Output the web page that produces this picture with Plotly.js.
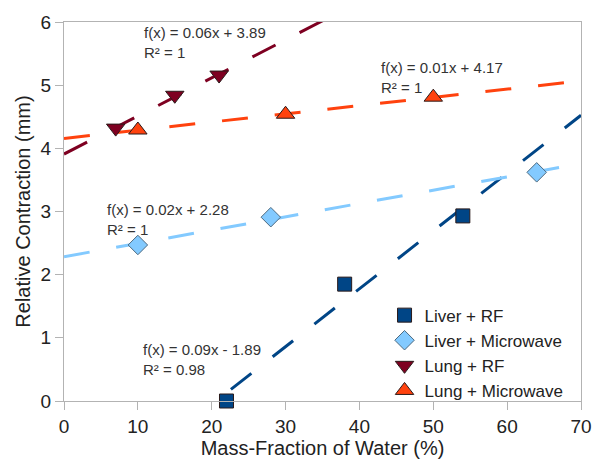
<!DOCTYPE html>
<html>
<head>
<meta charset="utf-8">
<script src="https://cdn.plot.ly/plotly-3.0.1.min.js"></script>
<style>
  html, body { margin: 0; padding: 0; background: #fff; }
  #chart { width: 600px; height: 475px; }
</style>
</head>
<body>
<div id="chart"></div>
<script>
// values
const seriesNames = ["Liver + RF", "Liver + Microwave", "Lung + RF", "Lung + Microwave"];
const liverRfX = [22, 38, 54];
const liverRfY = [0, 1.85, 2.93];
const liverMwX = [10, 28, 64];
const liverMwY = [2.47, 2.91, 3.62];
const lungRfX = [7, 15, 21];
const lungRfY = [4.32, 4.84, 5.16];
const lungMwX = [10, 30, 50];
const lungMwY = [4.29, 4.54, 4.81];
const fitLabels = [
  "f(x) = 0.09x - 1.89<br>R² = 0.98",
  "f(x) = 0.02x + 2.28<br>R² = 1",
  "f(x) = 0.06x + 3.89<br>R² = 1",
  "f(x) = 0.01x + 4.17<br>R² = 1",
];

const colors = ["#004586", "#83caff", "#7e0021", "#ff420e"];
const symbols = ["square", "diamond", "triangle-down", "triangle-up"];
const sizes = [14, 15, 16, 16];
const labelPos = [[10.4, 0.98], [5.6, 3.2], [10.5, 6.0], [42.7, 5.44]];
const xRange = [0, 70];

// least squares fit, same as the spreadsheet trend line
function linFit(xs, ys) {
  const n = xs.length;
  const mx = xs.reduce((a, b) => a + b, 0) / n;
  const my = ys.reduce((a, b) => a + b, 0) / n;
  let sxy = 0, sxx = 0;
  for (let i = 0; i < n; i++) {
    sxy += (xs[i] - mx) * (ys[i] - my);
    sxx += (xs[i] - mx) * (xs[i] - mx);
  }
  const m = sxy / sxx;
  return { m: m, b: my - m * mx };
}

const allX = [liverRfX, liverMwX, lungRfX, lungMwX];
const allY = [liverRfY, liverMwY, lungRfY, lungMwY];

const trends = allX.map((xs, i) => {
  const f = linFit(xs, allY[i]);
  return {
    type: "scatter",
    mode: "lines",
    x: xRange,
    y: xRange.map(x => f.m * x + f.b),
    line: { color: colors[i], width: 3, dash: "26px,27px" },
    showlegend: false,
    hoverinfo: "skip",
  };
});

const points = allX.map((xs, i) => ({
  type: "scatter",
  mode: "markers",
  name: seriesNames[i],
  x: xs,
  y: allY[i],
  cliponaxis: false,
  marker: {
    symbol: symbols[i],
    size: sizes[i],
    color: colors[i],
    line: { color: i == 1 ? "#4d6a80" : "#2a1a1a", width: 1 },
  },
}));

const annotations = fitLabels.map((t, i) => ({
  x: labelPos[i][0],
  y: labelPos[i][1],
  xref: "x",
  yref: "y",
  text: t,
  showarrow: false,
  xanchor: "left",
  yanchor: "top",
  align: "left",
  font: { size: 15, color: "#333" },
}));

const axisStyle = {
  showgrid: false,
  zeroline: false,
  showline: true,
  mirror: true,
  linecolor: "#b3b3b3",
  linewidth: 1,
  ticks: "outside",
  ticklen: 8,
  tickcolor: "#b3b3b3",
  tickfont: { size: 19, color: "#222" },
};

const layout = {
  width: 600,
  height: 475,
  margin: { l: 64, r: 19, t: 22, b: 74 },
  paper_bgcolor: "#fff",
  plot_bgcolor: "#fff",
  font: { family: "Liberation Sans, Arial, sans-serif", color: "#222" },
  xaxis: Object.assign({}, axisStyle, {
    range: xRange,
    dtick: 10,
    title: { text: "Mass-Fraction of Water (%)", font: { size: 20 }, standoff: 4 },
  }),
  yaxis: Object.assign({}, axisStyle, {
    range: [0, 6],
    dtick: 1,
    title: { text: "Relative Contraction (mm)", font: { size: 20 }, standoff: 4 },
  }),
  legend: {
    x: 0.62,
    y: -0.02,
    xanchor: "left",
    yanchor: "bottom",
    bgcolor: "rgba(0,0,0,0)",
    font: { size: 17, color: "#222" },
    itemwidth: 30,
  },
  annotations: annotations,
  showlegend: true,
};

Plotly.newPlot("chart", trends.concat(points), layout, { displayModeBar: false, staticPlot: true });
</script>
</body>
</html>
